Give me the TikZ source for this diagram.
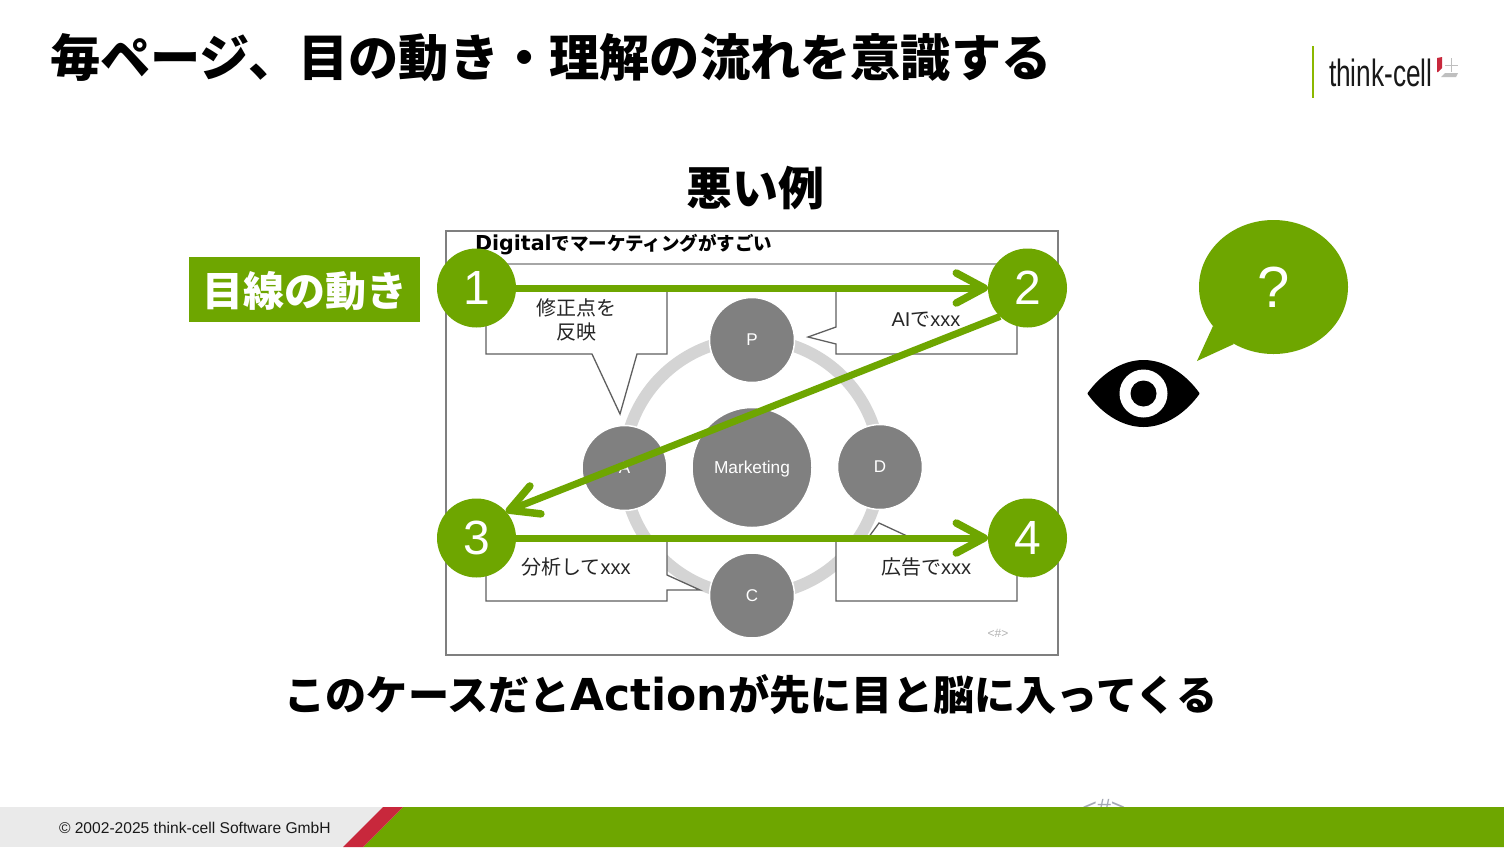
\documentclass[tikz,border=0pt]{standalone}
\usepackage{fontspec}
\usepackage{graphicx}
\usetikzlibrary{arrows.meta,shapes.geometric}
\setmainfont{Liberation Sans}
\newfontfamily\cjk{Noto Sans CJK JP}
\newfontfamily\wide{DejaVu Sans}
\newcommand{\fs}[1]{\fontsize{#1}{#1}\selectfont}
\definecolor{tcgreen}{HTML}{6EA600}
\definecolor{tcgray}{HTML}{808080}
\definecolor{tcring}{HTML}{D4D4D4}
\definecolor{tcred}{HTML}{C8283C}
\definecolor{tcfoot}{HTML}{EAEAEA}
\definecolor{tcframe}{HTML}{7F7F7F}
\definecolor{tcline}{HTML}{5F5F5F}
\definecolor{tcpage}{HTML}{A4A8B4}
\tikzset{
  x=1pt,y=-1pt,
  txt/.style={inner sep=0pt,outer sep=0pt,align=center},
  numdot/.style={circle,fill=tcgreen,inner sep=0pt,outer sep=0pt,minimum size=79pt,text=white,font=\fs{48}},
  pdca/.style={circle,fill=tcgray,draw=white,line width=1.5pt,inner sep=0pt,minimum size=85pt,text=white,font=\fs{17}},
  callout/.style={draw=tcline,fill=white,line width=1.3pt,line join=miter},
  calltext/.style={txt,text=black!85,font=\fs{20}},
  flow/.style={draw=tcgreen,line width=7pt,-{Straight Barb[length=28pt,width=30pt,round,line width=7.5pt]}},
}
\begin{document}
\begin{tikzpicture}
\useasboundingbox (0,0) rectangle (1504,847);
\fill[white] (0,0) rectangle (1504,847);

% title
\node[txt,anchor=west,font=\cjk\bfseries\fs{50.2}] (title) at (50,57.5) {毎ページ、目の動き・理解の流れを意識する};
% logo
\draw[tcgreen!80!yellow,line width=2.2pt] (1313,46) -- (1313,98);
\node[txt,anchor=west,text=black!90] (logo) at (1329,73) {\scalebox{0.69}[1]{\fs{38}think-cell}};
\fill[tcred] (1437,58) -- (1442,57) -- (1442,68) -- (1438,72) -- (1437,72) -- cycle;
\draw[black!25,line width=.7pt] (1445,65) -- (1458,65) (1451,58) -- (1451,72);
\fill[black!25] (1445,73) -- (1458,73) -- (1456,77) -- (1441,77) -- cycle;

% heading
\node[txt,font=\cjk\bfseries\fs{46}] (bad) at (755,188) {悪い例};

% slide frame
\draw[tcframe,line width=1.8pt] (446,231) rectangle (1058,655);
\node[txt,anchor=west,font=\bfseries\fs{18.5}] (slidetitle) at (475,245) {{\wide\bfseries\fs{20.6}Digital}{\cjk\bfseries でマーケティングがすごい}};
\draw[black!35,line width=1.2pt] (470,264) -- (1040,264);

% cycle
\draw[tcring,line width=12pt] (752,467) circle[radius=128pt];
\node[pdca] (P) at (752,340) {P};
\node[pdca] (D) at (880,467) {D};
\node[pdca] (C) at (752,595.5) {C};
\node[pdca] (A) at (624.5,468) {A};
\node[pdca,minimum size=120pt,font=\fs{17.3},text height=12pt,text depth=0pt] (M) at (752,467.5) {Marketing};

% callouts
\draw[callout] (486,288) -- (667,288) -- (667,354) -- (637,354) -- (620,414) -- (592,354) -- (486,354) -- cycle;
\node[calltext] (c1) at (576,320) {\cjk 修正点を\\[4pt]\cjk 反映};
\draw[callout] (836,288) -- (836,327) -- (808,337) -- (836,344) -- (836,354) -- (1017,354) -- (1017,288) -- cycle;
\node[calltext] (c2) at (926,320) {AI{\cjk で}xxx};
\draw[callout] (486,538) -- (667,538) -- (667,575) -- (700,590) -- (667,590) -- (667,601) -- (486,601) -- cycle;
\node[calltext] (c3) at (576,567) {{\cjk 分析して}xxx};
\draw[callout] (836,538) -- (868,538) -- (879,523) -- (907,536) -- (1017,538) -- (1017,601) -- (836,601) -- cycle;
\node[calltext] (c4) at (926,567) {{\cjk 広告で}xxx};
\node[txt,text=black!30,font=\fs{12}] (pagein) at (998,633.5) {<\#>};

% numbered dots and reading flow
\node[numdot] (n1) at (476.5,288) {1};
\node[numdot] (n2) at (1027.5,288) {2};
\node[numdot] (n3) at (476.5,538) {3};
\node[numdot] (n4) at (1027.5,538) {4};
\draw[flow] (n1) -- (n2);
\draw[flow] (n2.226) -- (n3.42);
\draw[flow] (n3) -- (n4);

% label
\node[fill=tcgreen,text=white,inner sep=0pt,minimum width=231pt,minimum height=65pt,font=\cjk\bfseries\fs{41},text height=33pt,text depth=0pt] (gaze) at (304.5,289.5) {目線の動き};

% eye
\fill[black,draw=black,line width=2pt,line join=round] (1088.5,393.5) .. controls (1101,376) and (1121,361) .. (1143.5,361) .. controls (1166,361) and (1186,376) .. (1198.5,393.5) .. controls (1186,411) and (1166,426) .. (1143.5,426) .. controls (1121,426) and (1101,411) .. (1088.5,393.5) -- cycle;
\fill[white] (1143.5,393.5) circle[radius=24pt];
\fill[black] (1143.5,393.5) circle[radius=13pt];

% speech bubble
\fill[tcgreen] (1213,326) -- (1197,361) -- (1234,344) -- cycle;
\node[ellipse,fill=tcgreen,inner sep=0pt,minimum width=149pt,minimum height=134pt,text=white,font=\fs{58}] (q) at (1273.5,287) {?};

% lower message
\node[txt,font=\cjk\bfseries\fs{41.1}] (msg) at (751,695) {このケースだと{\wide\bfseries\fs{44}Action}が先に目と脳に入ってくる};

% footer
\node[txt,text=tcpage,font=\fs{25}] (pageno) at (1104,808) {<\#>};
\fill[tcfoot] (0,807) rectangle (383,847);
\fill[tcgreen] (403,807) -- (1504,807) -- (1504,847) -- (363,847) -- cycle;
\fill[tcred] (383,807) -- (403,807) -- (363,847) -- (343,847) -- cycle;
\node[txt,anchor=west,text=black!90,font=\fs{15.6}] (copy) at (59,828) {© 2002-2025 think-cell Software GmbH};
\end{tikzpicture}
\end{document}
